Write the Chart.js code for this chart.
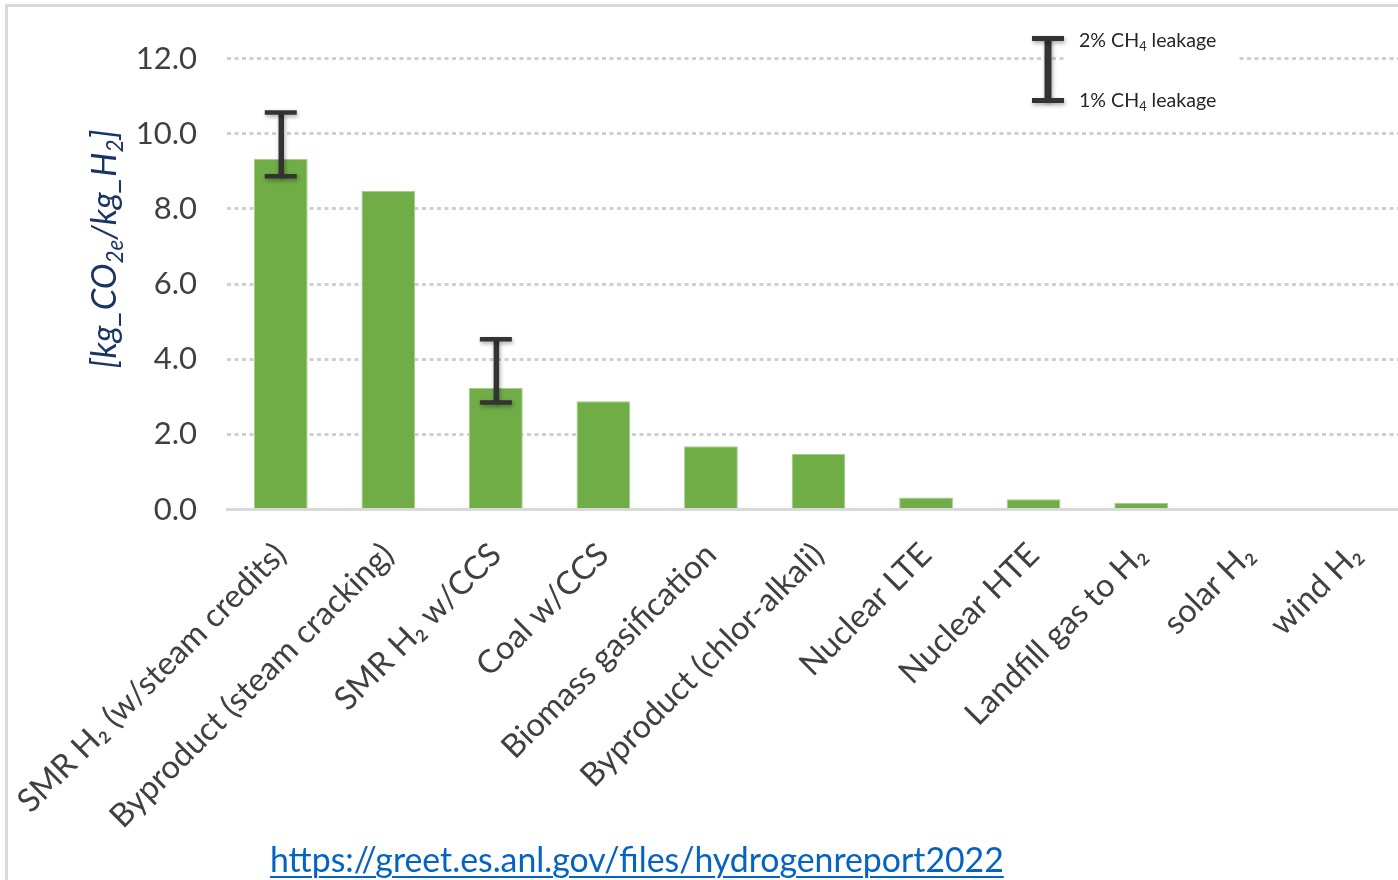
<!DOCTYPE html>
<html>
<head>
<meta charset="utf-8">
<script src="https://cdn.jsdelivr.net/npm/chart.js@4.4.1/dist/chart.umd.min.js"></script>
<style>
  html, body { margin: 0; padding: 0; overflow: hidden; background: #fff; width: 1398px; height: 880px; }
  #frame { position: absolute; left: 5px; top: 4px; width: 1500px; height: 1000px;
           border-left: 3px solid #d9d9d9; border-top: 3px solid #d9d9d9; }
  #wrap { position: absolute; left: 0; top: 0; width: 1410px; height: 880px; }
  #src { position: absolute; left: 270px; top: 839px; font: 33.8px Lato, sans-serif; color: #0563c1;
         text-decoration: underline; text-decoration-thickness: 2px; text-underline-offset: 4px; white-space: nowrap; }
</style>
</head>
<body>
<div id="frame"></div>
<div id="wrap"><canvas id="c"></canvas></div>
<div id="src">https://greet.es.anl.gov/files/hydrogenreport2022</div>
<script>
// Hydrogen production pathways
const categories = [
  'SMR H₂ (w/steam credits)',
  'Byproduct (steam cracking)',
  'SMR H₂ w/CCS',
  'Coal w/CCS',
  'Biomass gasification',
  'Byproduct (chlor-alkali)',
  'Nuclear LTE',
  'Nuclear HTE',
  'Landfill gas to H₂',
  'solar H₂',
  'wind H₂'
];
// Life-cycle emissions, kg CO2e per kg H2
const emissions = [9.33, 8.48, 3.23, 2.88, 1.68, 1.48, 0.32, 0.27, 0.18, 0, 0];
// Range for methane leakage rates (only for natural-gas routes)
const leak1pct = [8.87, null, 2.85, null, null, null, null, null, null, null, null];
const leak2pct = [10.56, null, 4.53, null, null, null, null, null, null, null, null];
// Value axis ticks
const yTicks = [0, 2, 4, 6, 8, 10, 12];

const FONT = 'Lato, "Open Sans", sans-serif';
const TEXT = '#404040';

// Draw a line of text made of normal and subscript runs, centered or left-aligned
function richText(ctx, runs, x, y, size, opts) {
  const o = Object.assign({ align: 'left', italic: false, color: TEXT }, opts || {});
  const style = o.italic ? 'italic ' : '';
  const subSize = size * 0.65;
  let total = 0;
  const widths = runs.map(r => {
    ctx.font = style + (r.sub ? subSize : size) + 'px ' + FONT;
    const w = ctx.measureText(r.t).width;
    total += w;
    return w;
  });
  let cx = o.align === 'center' ? x - total / 2 : x;
  ctx.fillStyle = o.color;
  ctx.textAlign = 'left';
  ctx.textBaseline = 'alphabetic';
  runs.forEach((r, i) => {
    ctx.font = style + (r.sub ? subSize : size) + 'px ' + FONT;
    ctx.fillText(r.t, cx, y + (r.sub ? size * 0.2 : 0));
    cx += widths[i];
  });
}

// Methane-leakage range bars drawn over the columns
const leakageBars = {
  id: 'leakageBars',
  afterDatasetsDraw(chart) {
    const { ctx, scales: { x, y } } = chart;
    ctx.save();
    ctx.strokeStyle = '#333333';
    ctx.shadowColor = 'rgba(0,0,0,0.35)';
    ctx.shadowBlur = 4;
    ctx.shadowOffsetX = 1;
    ctx.shadowOffsetY = 2;
    ctx.lineCap = 'butt';
    leak1pct.forEach((lo, i) => {
      const hi = leak2pct[i];
      if (lo == null || hi == null) return;
      const px = x.getPixelForValue(i);
      const pLo = y.getPixelForValue(lo);
      const pHi = y.getPixelForValue(hi);
      ctx.lineWidth = 5.5;
      ctx.beginPath(); ctx.moveTo(px + 0.5, pLo); ctx.lineTo(px + 0.5, pHi); ctx.stroke();
      ctx.lineWidth = 4.5;
      ctx.beginPath();
      ctx.moveTo(px - 16, pHi); ctx.lineTo(px + 16, pHi);
      ctx.moveTo(px - 16, pLo); ctx.lineTo(px + 16, pLo);
      ctx.stroke();
    });
    ctx.restore();
  }
};

// Legend key for the leakage range and the rotated unit title
const annotations = {
  id: 'annotations',
  afterDraw(chart) {
    const ctx = chart.ctx;
    ctx.save();
    // key box
    ctx.fillStyle = '#ffffff';
    ctx.fillRect(1066, 26, 172, 88);
    ctx.strokeStyle = '#333333';
    ctx.shadowColor = 'rgba(0,0,0,0.35)';
    ctx.shadowBlur = 4;
    ctx.shadowOffsetX = 1;
    ctx.shadowOffsetY = 2;
    ctx.lineWidth = 7;
    ctx.beginPath(); ctx.moveTo(1048, 38); ctx.lineTo(1048, 101); ctx.stroke();
    ctx.lineWidth = 5;
    ctx.beginPath();
    ctx.moveTo(1032, 38.5); ctx.lineTo(1064, 38.5);
    ctx.moveTo(1032, 100.5); ctx.lineTo(1064, 100.5);
    ctx.stroke();
    ctx.shadowColor = 'transparent';
    richText(ctx, [{ t: '2% CH' }, { t: '4', sub: true }, { t: ' leakage' }], 1079, 47, 19.6, { color: '#262626' });
    richText(ctx, [{ t: '1% CH' }, { t: '4', sub: true }, { t: ' leakage' }], 1079, 107, 19.6, { color: '#262626' });

    // unit title
    ctx.translate(116, 249);
    ctx.rotate(-Math.PI / 2);
    richText(ctx, [
      { t: '[kg_CO' }, { t: '2e', sub: true }, { t: '/kg_H' }, { t: '2', sub: true }, { t: ']' }
    ], 0, 0, 34.5, { align: 'center', italic: true, color: '#1a3466' });
    ctx.restore();
  }
};

new Chart(document.getElementById('c'), {
  type: 'bar',
  data: {
    labels: categories,
    datasets: [{
      data: emissions,
      backgroundColor: '#70ad47',
      borderColor: '#a3cf8a',
      borderWidth: 1,
      barPercentage: 0.5,
      categoryPercentage: 1.0
    }]
  },
  options: {
    responsive: true,
    maintainAspectRatio: false,
    animation: false,
    events: [],
    layout: { padding: { left: 0, right: 0, top: 58.5, bottom: 0 } },
    plugins: { legend: { display: false }, tooltip: { enabled: false }, title: { display: false } },
    scales: {
      x: {
        grid: { display: false },
        border: { display: true, color: '#d9d9d9', width: 3 },
        ticks: {
          autoSkip: false, maxRotation: 45, minRotation: 45, padding: 18,
          color: TEXT, font: { family: FONT, size: 32.5 }
        },
        afterFit(scale) {
          scale.height = 880 - 509.5;
          scale.paddingLeft = 0;
          scale.paddingRight = 0;
        }
      },
      y: {
        min: yTicks[0],
        max: yTicks[yTicks.length - 1],
        grid: {
          drawTicks: false,
          lineWidth: 3,
          color: ctx => (ctx.tick && ctx.tick.value === 0) ? 'rgba(0,0,0,0)' : '#d0d0d0'
        },
        border: { display: false, dash: [4, 3.5] },
        ticks: {
          stepSize: yTicks[1] - yTicks[0],
          padding: 30,
          color: TEXT,
          font: { family: FONT, size: 31 },
          callback: v => Number(v).toFixed(1)
        },
        afterFit(scale) {
          scale.width = 227;
          scale.paddingTop = 0;
          scale.paddingBottom = 0;
        }
      }
    }
  },
  plugins: [leakageBars, annotations]
});
</script>
</body>
</html>
